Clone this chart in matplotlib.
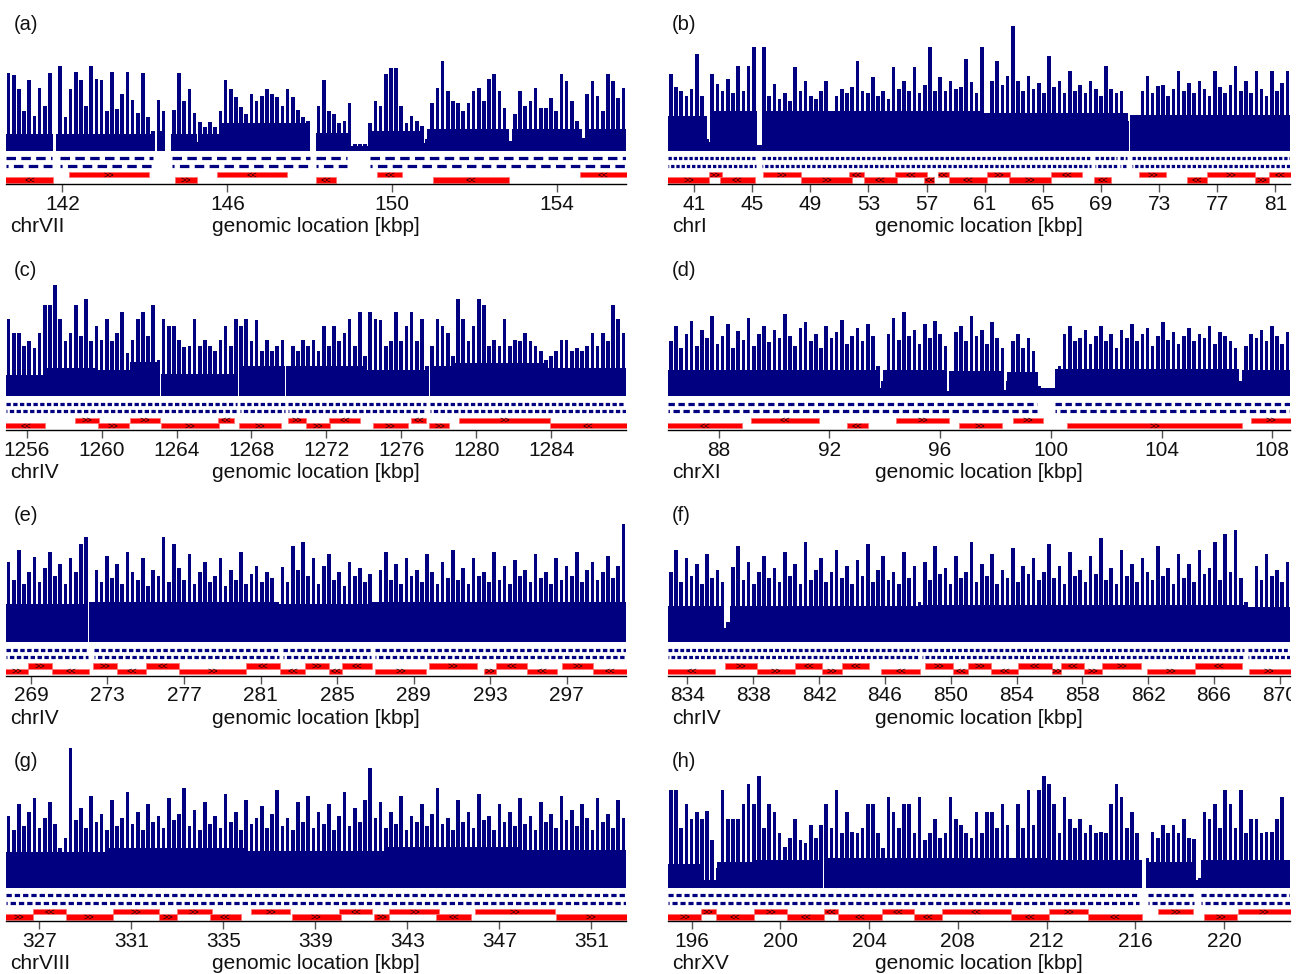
import numpy as np
import matplotlib
matplotlib.use('Agg')
import matplotlib.pyplot as plt
from matplotlib.transforms import Bbox, TransformedBbox

plt.rcParams['font.family'] = ['Liberation Sans', 'DejaVu Sans']
plt.rcParams['lines.scale_dashes'] = False

# ---------------- data ----------------
tags = ['(a)', '(b)', '(c)', '(d)', '(e)', '(f)', '(g)', '(h)']
chroms = ['chrVII', 'chrI', 'chrIV', 'chrXI', 'chrIV', 'chrIV', 'chrVIII', 'chrXV']
xlims = [(140.63, 155.67), (39.22, 82.0), (1254.89, 1288.0), (86.18, 108.64),
         (267.70, 300.09), (832.83, 870.62), (325.56, 352.50), (194.95, 222.96)]
ticks_a = [142, 146, 150, 154]
ticks_b = [41, 45, 49, 53, 57, 61, 65, 69, 73, 77, 81]
ticks_c = [1256, 1260, 1264, 1268, 1272, 1276, 1280, 1284]
ticks_d = [88, 92, 96, 100, 104, 108]
ticks_e = [269, 273, 277, 281, 285, 289, 293, 297]
ticks_f = [834, 838, 842, 846, 850, 854, 858, 862, 866, 870]
ticks_g = [327, 331, 335, 339, 343, 347, 351]
ticks_h = [196, 200, 204, 208, 212, 216, 220]

# signal peaks (per equal-width bin across the window)
spikes_a = [78, 76, 62, 40, 71, 35, 63, 45, 78, 0, 85, 34, 62, 79, 71, 45, 85, 72, 71, 40,
            79, 42, 57, 79, 51, 38, 78, 34, 20, 51, 40, 0, 41, 78, 50, 62, 38, 29, 24, 29,
            24, 40, 71, 62, 54, 44, 37, 57, 50, 55, 62, 57, 54, 45, 62, 54, 41, 34, 30, 0,
            45, 71, 40, 37, 28, 30, 48, 7, 7, 7, 28, 50, 45, 77, 83, 83, 45, 28, 35, 30,
            25, 12, 48, 63, 90, 60, 50, 48, 40, 48, 60, 63, 50, 72, 77, 60, 43, 10, 37, 60,
            45, 50, 63, 43, 43, 53, 40, 77, 70, 50, 30, 13, 57, 70, 55, 40, 77, 70, 53, 63]
spikes_b = [77, 64, 60, 55, 62, 97, 55, 12, 77, 67, 60, 72, 58, 85, 60, 85, 104, 6, 104, 55,
            67, 52, 58, 50, 84, 60, 70, 55, 52, 60, 70, 36, 55, 62, 58, 64, 90, 60, 58, 74,
            55, 60, 52, 84, 62, 70, 60, 84, 58, 66, 104, 60, 74, 60, 70, 62, 64, 92, 69, 58,
            104, 20, 70, 90, 66, 75, 125, 70, 60, 75, 62, 68, 58, 95, 64, 70, 58, 80, 60, 66,
            58, 70, 62, 55, 85, 62, 58, 60, 30, 8, 35, 60, 75, 58, 65, 66, 55, 62, 80, 60,
            68, 58, 70, 62, 55, 80, 64, 58, 66, 85, 60, 70, 58, 80, 62, 55, 80, 60, 68, 80]
spikes_c = [77, 63, 63, 50, 55, 48, 63, 91, 91, 111, 77, 55, 63, 91, 60, 97, 55, 70, 56, 77,
            55, 63, 84, 43, 56, 77, 84, 60, 91, 36, 77, 70, 70, 56, 49, 50, 77, 50, 56, 50,
            45, 56, 70, 50, 77, 70, 77, 55, 76, 45, 56, 45, 50, 56, 30, 50, 45, 56, 50, 56,
            45, 70, 50, 70, 55, 63, 77, 50, 84, 40, 84, 77, 76, 50, 55, 84, 55, 70, 84, 55,
            77, 30, 50, 77, 70, 63, 40, 97, 77, 55, 70, 97, 91, 50, 56, 50, 77, 50, 56, 55,
            63, 55, 50, 45, 36, 40, 45, 56, 56, 45, 48, 45, 50, 63, 50, 63, 55, 91, 77, 63]
spikes_d = [55, 70, 48, 62, 75, 50, 66, 58, 80, 52, 60, 72, 48, 65, 56, 78, 50, 62, 70, 54,
            66, 58, 82, 60, 50, 68, 74, 55, 62, 48, 70, 58, 64, 76, 52, 60, 68, 55, 72, 60,
            30, 15, 62, 78, 56, 84, 60, 66, 52, 72, 58, 75, 62, 50, 18, 64, 70, 55, 80, 60,
            66, 52, 74, 58, 48, 15, 55, 62, 48, 58, 45, 10, 8, 8, 8, 30, 62, 70, 55, 58,
            66, 52, 60, 70, 55, 62, 48, 66, 58, 72, 55, 62, 68, 50, 60, 74, 56, 64, 52, 60,
            68, 55, 62, 58, 70, 52, 64, 60, 55, 48, 15, 50, 62, 58, 66, 55, 70, 60, 52, 64]
spikes_e = [80, 62, 92, 58, 70, 85, 60, 74, 90, 66, 78, 58, 84, 70, 98, 105, 40, 72, 60, 86,
            64, 78, 58, 90, 70, 62, 84, 56, 72, 66, 105, 60, 98, 74, 62, 88, 58, 70, 80, 60,
            66, 84, 56, 72, 62, 90, 58, 68, 76, 60, 70, 64, 40, 75, 60, 96, 72, 100, 66, 84,
            58, 76, 88, 62, 70, 56, 80, 66, 74, 60, 68, 40, 72, 90, 62, 78, 58, 84, 66, 72,
            60, 88, 70, 58, 80, 64, 92, 62, 74, 58, 84, 66, 70, 60, 90, 62, 76, 58, 82, 66,
            72, 60, 88, 64, 70, 58, 84, 62, 76, 66, 90, 60, 72, 80, 62, 70, 86, 64, 76, 118]
spikes_f = [70, 92, 60, 84, 66, 78, 58, 88, 64, 72, 60, 20, 75, 96, 62, 80, 58, 70, 86, 64,
            74, 60, 90, 66, 78, 58, 100, 62, 72, 84, 60, 70, 92, 64, 76, 58, 82, 66, 98, 60,
            72, 86, 62, 70, 58, 90, 64, 76, 40, 80, 62, 96, 68, 74, 58, 86, 64, 70, 100, 60,
            78, 66, 88, 58, 72, 64, 94, 60, 76, 68, 84, 62, 70, 98, 64, 76, 58, 90, 66, 72,
            60, 86, 68, 104, 62, 74, 58, 92, 66, 78, 60, 84, 70, 62, 96, 66, 74, 58, 88, 64,
            78, 60, 92, 68, 74, 100, 62, 108, 70, 112, 64, 40, 30, 76, 62, 88, 66, 72, 60, 80]
spikes_g = [72, 58, 84, 62, 76, 90, 60, 70, 86, 64, 40, 50, 140, 68, 80, 60, 92, 66, 74, 58,
            88, 62, 70, 96, 64, 76, 58, 84, 66, 72, 60, 90, 68, 74, 100, 62, 78, 58, 86, 64,
            72, 60, 94, 66, 76, 58, 88, 64, 70, 82, 60, 74, 98, 62, 70, 58, 86, 66, 92, 60,
            76, 64, 84, 58, 72, 96, 62, 80, 66, 88, 120, 70, 86, 60, 76, 64, 92, 58, 72, 66,
            84, 62, 74, 100, 64, 70, 58, 88, 66, 76, 60, 94, 68, 72, 58, 84, 66, 76, 62, 90,
            64, 72, 58, 86, 66, 74, 60, 92, 68, 78, 62, 84, 70, 58, 90, 66, 74, 60, 88, 70]
spikes_h = [98, 98, 60, 84, 69, 76, 69, 77, 48, 20, 98, 69, 69, 69, 84, 104, 84, 112, 60, 84,
            76, 55, 41, 50, 69, 48, 45, 63, 50, 63, 84, 60, 98, 55, 76, 56, 55, 60, 84, 84,
            55, 40, 91, 76, 60, 84, 84, 55, 91, 48, 55, 69, 50, 55, 91, 69, 63, 55, 50, 76,
            55, 76, 76, 60, 84, 63, 30, 84, 60, 98, 63, 98, 112, 104, 84, 55, 91, 69, 60, 69,
            55, 63, 55, 56, 55, 84, 104, 91, 60, 76, 55, 0, 30, 56, 50, 63, 55, 63, 55, 69,
            50, 49, 10, 76, 69, 84, 60, 98, 84, 60, 98, 55, 69, 69, 55, 56, 56, 69, 91, 28]

# solid lower part of the signal (step levels between edges, kbp)
floor_a_edges = [140.63, 141.78, 141.85, 144.20, 144.30, 144.49, 144.64, 145.27, 145.34, 145.82,
                 148.00, 148.15, 148.97, 149.41, 150.77, 150.84, 152.83, 152.90, 154.60, 154.67, 155.67]
floor_a_vals = [17, 0, 17, 0, 20, 0, 17, 9, 17, 28, 0, 18, 5, 20, 8, 22, 8, 22, 13, 22]
floor_b_edges = [39.22, 41.92, 42.08, 45.30, 45.66, 60.82, 60.95, 70.88, 70.98, 82.00]
floor_b_vals = [35, 9, 40, 6, 40, 10, 38, 0, 36]
floor_c_edges = [1254.89, 1256.96, 1257.00, 1259.75, 1259.79, 1261.49, 1261.53, 1263.12, 1263.17,
                 1267.26, 1267.35, 1269.81, 1269.88, 1274.10, 1274.15, 1277.48, 1277.57, 1278.75,
                 1278.79, 1283.76, 1288.00]
floor_c_vals = [21, 0, 28, 0, 26, 0, 34, 0, 22, 0, 30, 0, 30, 0, 26, 0, 30, 0, 33, 28]
floor_d_edges = [86.18, 93.75, 93.95, 96.25, 96.33, 98.32, 98.40, 99.53, 100.14, 106.80, 106.90, 108.64]
floor_d_vals = [26, 8, 26, 5, 25, 6, 24, 8, 27, 4, 26]
floor_e_edges = [267.70, 272.00, 272.08, 281.90, 281.98, 286.74, 286.82, 300.09]
floor_e_vals = [38, 0, 40, 0, 38, 0, 40]
floor_f_edges = [832.83, 836.10, 836.60, 848.02, 848.12, 867.88, 867.98, 870.62]
floor_f_vals = [36, 14, 36, 0, 37, 0, 35]
floor_g_edges = [325.56, 330.0, 336.0, 342.0, 348.0, 352.50]
floor_g_vals = [36, 40, 37, 41, 38]
floor_h_edges = [194.95, 196.42, 197.16, 198.84, 198.89, 201.90, 201.95, 204.61, 204.66, 210.39,
                 210.44, 212.09, 212.14, 216.28, 216.46, 218.71, 218.97, 222.96]
floor_h_vals = [24, 8, 26, 0, 28, 0, 30, 0, 30, 0, 30, 0, 28, 0, 26, 8, 28]

# probe coverage gaps (kbp)
gaps_a = [(141.75, 141.95), (144.20, 144.65), (148.00, 148.15), (148.90, 149.45)]
gaps_b = [(45.25, 45.70), (68.30, 68.55), (70.10, 70.30), (70.80, 71.10)]
gaps_c = [(1267.20, 1267.40), (1269.78, 1269.95), (1277.30, 1277.55)]
gaps_d = [(99.50, 100.15)]
gaps_e = [(272.00, 272.30), (281.95, 282.15), (286.75, 286.97)]
gaps_f = [(848.05, 848.25), (867.80, 868.05)]
gaps_g = []
gaps_h = [(216.15, 216.55), (218.65, 218.95)]
probe_len = 0.23
probe_gap = 0.13

# genes: start, end (kbp), strand (+ forward >>, - reverse <<)
gs_a = [140.61, 142.16, 144.73, 145.74, 148.15, 149.64, 150.98, 154.55]
ge_a = [141.78, 144.10, 145.26, 147.44, 148.64, 150.23, 152.84, 155.70]
st_a = "-++-----"
gs_b = [39.17, 42.04, 42.75, 45.71, 48.38, 51.68, 52.67, 54.84, 56.84, 57.77,
        58.53, 61.15, 62.67, 65.58, 68.54, 71.64, 74.88, 76.29, 79.61, 80.57]
ge_b = [42.04, 42.89, 45.20, 48.38, 51.85, 52.67, 54.95, 57.04, 57.54, 58.53,
        61.15, 62.76, 65.58, 67.69, 69.66, 73.47, 76.29, 79.61, 80.57, 82.06]
st_b = "++-++------++--+-++-"
gs_c = [1254.82, 1258.59, 1259.79, 1261.53, 1263.19, 1266.22, 1267.33, 1269.94, 1270.90,
        1272.12, 1274.47, 1276.52, 1277.50, 1279.09, 1283.93]
ge_c = [1256.96, 1259.83, 1261.45, 1263.10, 1266.28, 1267.05, 1269.55, 1270.90, 1272.21,
        1273.82, 1276.35, 1277.31, 1278.57, 1283.93, 1288.07]
st_c = "-++++-+++-+-++-"
gs_d = [86.14, 89.17, 92.64, 94.41, 96.67, 98.64, 100.57, 107.23]
ge_d = [88.84, 91.61, 93.38, 96.34, 98.24, 99.72, 106.92, 108.67]
st_d = "---+++++"
gs_e = [267.59, 268.83, 270.11, 272.24, 273.52, 275.02, 276.73, 280.25, 282.00, 283.34,
        284.58, 285.26, 286.97, 289.79, 292.67, 293.31, 294.93, 296.74, 298.39]
ge_e = [268.83, 270.11, 272.03, 273.52, 275.02, 276.73, 280.25, 282.00, 283.34, 284.58,
        285.26, 286.82, 289.66, 292.30, 293.31, 294.93, 296.49, 298.39, 300.16]
st_e = "++-+--+--+--+++--+-"
gs_f = [832.76, 836.27, 838.21, 840.55, 842.17, 843.41, 845.77, 848.44, 850.13, 851.05,
        852.45, 854.11, 856.18, 856.73, 858.10, 859.22, 861.91, 864.87, 868.10]
ge_f = [835.69, 838.21, 840.55, 842.17, 843.41, 845.03, 848.14, 850.13, 851.05, 852.45,
        854.11, 856.18, 856.73, 858.10, 859.22, 861.58, 864.87, 867.68, 870.67]
st_f = "-++-+--+-+--+-+++-+"
gs_g = [325.51, 326.72, 328.17, 330.19, 332.21, 332.97, 334.41, 336.22, 337.97, 340.01,
        341.55, 342.22, 344.23, 345.95, 349.46]
ge_g = [326.72, 328.17, 330.19, 332.21, 332.97, 334.50, 335.76, 337.88, 340.10, 341.48,
        342.22, 344.39, 345.77, 349.40, 352.56]
st_g = "+-++++-++-++-++"
gs_h = [194.89, 196.42, 197.09, 198.82, 200.30, 201.96, 202.61, 204.60, 206.02, 207.27,
        210.39, 212.11, 213.88, 217.02, 219.08, 220.63]
ge_h = [196.42, 197.09, 198.82, 200.30, 201.96, 202.61, 204.60, 206.02, 207.27, 210.39,
        212.11, 213.88, 216.28, 218.60, 220.59, 222.99]
st_h = "++-+-------+-+++"

ticks = [ticks_a, ticks_b, ticks_c, ticks_d, ticks_e, ticks_f, ticks_g, ticks_h]
spikes = [spikes_a, spikes_b, spikes_c, spikes_d, spikes_e, spikes_f, spikes_g, spikes_h]
floors = [(floor_a_edges, floor_a_vals), (floor_b_edges, floor_b_vals), (floor_c_edges, floor_c_vals),
          (floor_d_edges, floor_d_vals), (floor_e_edges, floor_e_vals), (floor_f_edges, floor_f_vals),
          (floor_g_edges, floor_g_vals), (floor_h_edges, floor_h_vals)]
gaps = [gaps_a, gaps_b, gaps_c, gaps_d, gaps_e, gaps_f, gaps_g, gaps_h]
genes = [(gs_a, ge_a, st_a), (gs_b, ge_b, st_b), (gs_c, ge_c, st_c), (gs_d, ge_d, st_d),
         (gs_e, ge_e, st_e), (gs_f, ge_f, st_f), (gs_g, ge_g, st_g), (gs_h, ge_h, st_h)]

# ---------------- layout (pixels) ----------------
W, H = 1301, 974
NAVY = '#000080'
RED = '#FF0000'
col_x = [(6.0, 626.0), (668.2, 1290.0)]
row_pitch = 245.67
axis_y0 = 184.3
ax_h = 183.6
base = 33.6
probe_y = [26.0, 18.8]
gene_y = [(1.5, 5.6), (7.0, 5.4)]

fig = plt.figure(figsize=(W / 100, H / 100), dpi=100)


def fx(x):
    return x / W


def fy(y):
    return 1 - y / H


for k in range(8):
    r, c = divmod(k, 2)
    x0p, x1p = col_x[c]
    yax = axis_y0 + r * row_pitch
    ax = fig.add_axes([fx(x0p), fy(yax), (x1p - x0p) / W, ax_h / H])
    xa, xb = xlims[k]
    ax.set_xlim(xa, xb)
    ax.set_ylim(0, ax_h)
    pxk = (x1p - x0p) / (xb - xa)

    # signal: solid floor + peaks
    fe, fv = floors[k]
    ax.stairs(np.array(fv, float) + base, fe, baseline=base, fill=True,
              color=NAVY, linewidth=0)
    sp = np.array(spikes[k], float)
    n = len(sp)
    bw = (xb - xa) / n
    centers = xa + (np.arange(n) + 0.5) * bw
    ax.bar(centers, sp, width=0.7 * bw, bottom=base, color=NAVY, linewidth=0)

    # probe rows
    pts = 72.0 / 100.0
    on = probe_len * pxk * pts
    off = probe_gap * pxk * pts
    segs = []
    cur = xa
    for g0, g1 in sorted(gaps[k]):
        segs.append((cur, g0))
        cur = g1
    segs.append((cur, xb))
    for ri, yy in enumerate(probe_y):
        offset = 0 if ri == 0 else (on + off) / 2
        for s0, s1 in segs:
            ax.plot([s0, s1], [yy, yy], color=NAVY, lw=2.3,
                    linestyle=(offset, (on, off)), dash_capstyle='butt')

    # genes
    gs, ge, st = genes[k]
    for i, (s0, s1, sd) in enumerate(zip(gs, ge, st)):
        y0, hh = gene_y[0] if i % 2 == 0 else gene_y[1]
        ax.broken_barh([(s0, s1 - s0)], (y0, hh), facecolors=RED,
                       edgecolor='#FF7070', linewidth=0.5)
        vis0, vis1 = max(s0, xa), min(s1, xb)
        ax.text((vis0 + vis1) / 2, y0 + hh / 2 - 0.3, '>>' if sd == '+' else '<<',
                fontsize=6.5, ha='center', va='center', color='black', clip_on=True)

    # axis
    for sname in ['top', 'left', 'right']:
        ax.spines[sname].set_visible(False)
    ax.spines['bottom'].set_linewidth(1.0)
    ax.spines['bottom'].set_color('black')
    ax.set_yticks([])
    ax.set_xticks(ticks[k])
    ax.tick_params(axis='x', direction='out', length=5.5, width=1.0, color='#555555',
                   labelbottom=False)
    ax.patch.set_visible(False)
    clipbox = TransformedBbox(Bbox([[fx(x0p - 10), 0], [fx(x1p + 1), 1]]), fig.transFigure)
    for t in ticks[k]:
        tt = ax.text(t, -(210.0 - 184.3), str(t), fontsize=15, ha='center',
                     va='baseline', color='#111111')
        tt.set_clip_on(True)
        tt.set_clip_box(clipbox)

    # labels
    ytop = r * row_pitch
    tag_x = 13.3 if c == 0 else 671.7
    chr_x = 10.0 if c == 0 else 671.7
    fig.text(fx(tag_x), fy(30.0 + ytop), tags[k], fontsize=14.5, ha='left',
             va='baseline', color='#111111')
    fig.text(fx(chr_x), fy(232.3 + ytop), chroms[k], fontsize=15, ha='left',
             va='baseline', color='#111111')
    fig.text(fx((x0p + x1p) / 2), fy(232.3 + ytop), 'genomic location [kbp]',
             fontsize=15, ha='center', va='baseline', color='#111111')

fig.savefig('out.png', dpi=100)
